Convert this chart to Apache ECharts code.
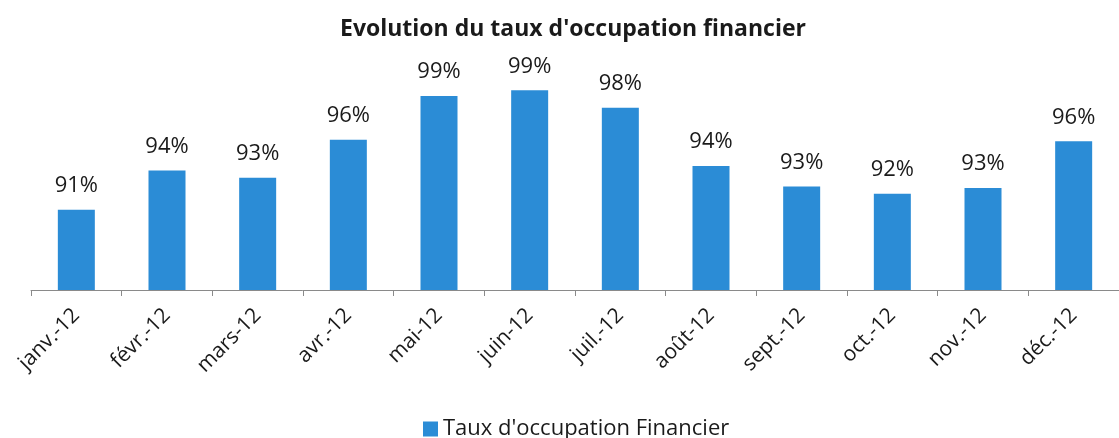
<!DOCTYPE html>
<html>
<head>
<meta charset="utf-8">
<script src="https://cdn.jsdelivr.net/npm/echarts@6/dist/echarts.min.js"></script>
<style>
    html, body { margin: 0; padding: 0; background: #fff; }
    #chart { width: 1119px; height: 438px; }
</style>
</head>
<body>
<div id="chart"></div>
<script>
// valeurs (hauteur des barres), étiquettes arrondies
const months = ['janv.-12', 'févr.-12', 'mars-12', 'avr.-12', 'mai-12', 'juin-12',
    'juil.-12', 'août-12', 'sept.-12', 'oct.-12', 'nov.-12', 'déc.-12'];
const occupation = [91.0, 93.7, 93.2, 95.8, 98.8, 99.2, 98.0, 94.0, 92.6, 92.1, 92.5, 95.7];

const font = '"Open Sans", sans-serif';
const chart = echarts.init(document.getElementById('chart'));

chart.setOption({
    title: {
        text: "Evolution du taux d'occupation financier",
        left: 335,
        top: 13,
        textStyle: { fontFamily: font, fontSize: 23, fontWeight: 'bold', color: '#1a1a1a' }
    },
    legend: {
        top: 413,
        left: 418,
        itemWidth: 15,
        itemHeight: 15,
        itemGap: 6,
        icon: 'rect',
        textStyle: { fontFamily: font, fontSize: 22, color: '#1a1a1a' },
        data: ["Taux d'occupation Financier"]
    },
    grid: { left: 31, right: -5, top: 64, bottom: 148 },
    xAxis: {
        type: 'category',
        data: months,
        axisLine: { lineStyle: { color: '#8a8a8a', width: 1 } },
        axisTick: { show: true, length: 6, lineStyle: { color: '#8a8a8a' } },
        axisLabel: {
            rotate: 45,
            interval: 0,
            margin: 22,
            fontFamily: font,
            fontSize: 21,
            color: '#1a1a1a'
        }
    },
    yAxis: {
        type: 'value',
        min: 85.5,
        max: 101,
        show: false,
        splitLine: { show: false }
    },
    series: [
        {
            name: "Taux d'occupation Financier",
            type: 'bar',
            data: occupation,
            barWidth: 37,
            itemStyle: { color: '#2b8cd6' },
            label: {
                show: true,
                position: 'top',
                distance: 13,
                fontFamily: font,
                fontSize: 22,
                color: '#1a1a1a',
                formatter: (p) => Math.round(p.value) + '%'
            }
        }
    ]
});
</script>
</body>
</html>
